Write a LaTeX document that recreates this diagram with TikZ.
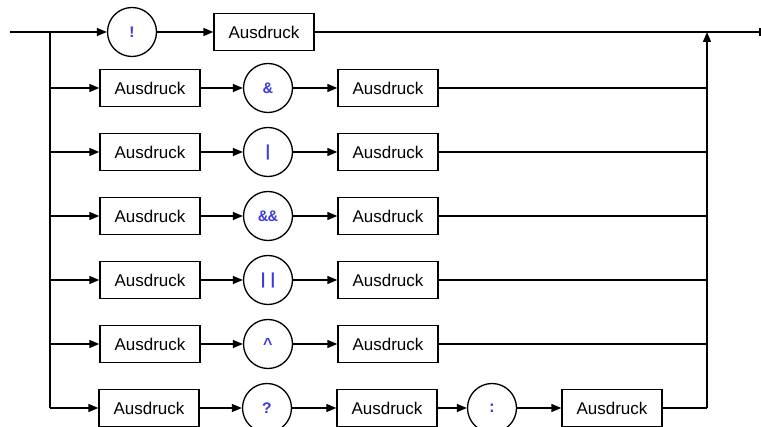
\documentclass[tikz,border=0pt]{standalone}
\usepackage{fontspec}
\setmainfont{Liberation Sans}
\newfontfamily\opfont{Liberation Mono}
\usetikzlibrary{arrows.meta}
\definecolor{opblue}{RGB}{60,60,220}
\begin{document}
\begin{tikzpicture}[x=1pt,y=-1pt,
  box/.style={draw, line width=1.3pt, minimum width=100pt, minimum height=37pt, inner sep=0pt, font=\fontsize{17}{20}\selectfont},
  op/.style={draw, circle, line width=1.3pt, minimum size=49pt, inner sep=0pt, text=opblue, font=\opfont\bfseries\fontsize{16}{18}\selectfont},
  conn/.style={line width=1.3pt},
  arr/.style={conn, -{Triangle[length=10pt,width=8pt]}}]
\useasboundingbox (0,0) rectangle (761,427);
% junctions
\coordinate (start) at (10,32);
\coordinate (jl0) at (50,32);
\coordinate (jr0) at (707,32);
\coordinate (end) at (760,32);
\foreach \i/\y in {1/88,2/152,3/216,4/280,5/344,6/408}{
  \coordinate (jl\i) at (50,\y);
  \coordinate (jr\i) at (707,\y);
}
% row 0
\node[op] (o0) at (132,32) {!};
\node[box] (c0) at (264,32) {Ausdruck};
% row 1
\node[box] (a1) at (150,88) {Ausdruck};
\node[op] (o1) at (268,88) {\&};
\node[box] (b1) at (388,88) {Ausdruck};
% row 2
\node[box] (a2) at (150,152) {Ausdruck};
\node[op] (o2) at (268,152) {|};
\node[box] (b2) at (388,152) {Ausdruck};
% row 3
\node[box] (a3) at (150,216) {Ausdruck};
\node[op] (o3) at (268,216) {\&\&};
\node[box] (b3) at (388,216) {Ausdruck};
% row 4
\node[box] (a4) at (150,280) {Ausdruck};
\node[op] (o4) at (268,280) {||};
\node[box] (b4) at (388,280) {Ausdruck};
% row 5
\node[box] (a5) at (150,344) {Ausdruck};
\node[op] (o5) at (268,344) {\textasciicircum};
\node[box] (b5) at (388,344) {Ausdruck};
% row 6
\node[box] (a6) at (149,408) {Ausdruck};
\node[op] (o6) at (267,408) {?};
\node[box] (b6) at (387,408) {Ausdruck};
\node[op] (p6) at (492,408) {:};
\node[box] (c6) at (612,408) {Ausdruck};
% connectors row 0
\draw[arr] (start) -- (o0);
\draw[arr] (o0) -- (c0);
\draw[conn] (c0) -- (end);
\draw[conn] ([yshift=-4pt]end) -- ([yshift=4pt]end);
% left and right verticals
\draw[conn] (jl0) -- (jl6);
\draw[arr] (jr6) -- (jr0);
% rows 1-5
\foreach \i in {1,2,3,4,5}{
  \draw[arr] (jl\i) -- (a\i);
  \draw[arr] (a\i) -- (o\i);
  \draw[arr] (o\i) -- (b\i);
  \draw[conn] (b\i) -- (jr\i);
}
% row 6
\draw[arr] (jl6) -- (a6);
\draw[arr] (a6) -- (o6);
\draw[arr] (o6) -- (b6);
\draw[arr] (b6) -- (p6);
\draw[arr] (p6) -- (c6);
\draw[conn] (c6) -- (jr6);
\end{tikzpicture}
\end{document}
